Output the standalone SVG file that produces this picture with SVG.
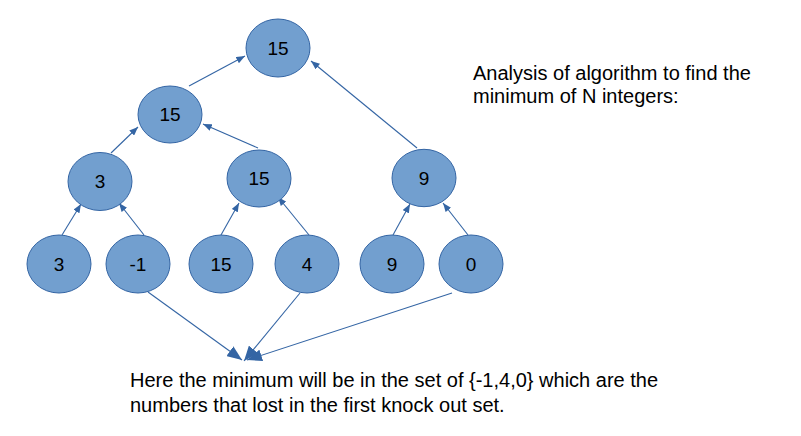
<svg xmlns="http://www.w3.org/2000/svg" width="801" height="436" viewBox="0 0 801 436">
<defs>
<style>
.n ellipse{fill:#729fcf;stroke:#3465a4;stroke-width:1}
.n text{font-family:"Liberation Sans",Arial,sans-serif;font-size:19px;fill:#000;text-anchor:middle}
.c line{stroke:#3465a4;stroke-width:1.1;fill:none}
.s{marker-end:url(#ah)}
.b{marker-end:url(#bh)}
.t{font-family:"Liberation Sans",Arial,sans-serif;font-size:20px;fill:#000}
</style>
<marker id="ah" viewBox="0 0 10 8" refX="10" refY="4" markerWidth="9" markerHeight="7" markerUnits="userSpaceOnUse" orient="auto"><path d="M0,0 L10,4 L0,8 Z" fill="#3465a4"/></marker>
<marker id="bh" viewBox="0 0 10 8" refX="10" refY="4" markerWidth="15" markerHeight="12" markerUnits="userSpaceOnUse" orient="auto"><path d="M0,0 L10,4 L0,8 Z" fill="#3465a4"/></marker>
</defs>
<rect width="801" height="436" fill="#fff"/>
<g id="connectors" class="c">
<line class="s" x1="189" y1="86" x2="245" y2="56"/>
<line class="s" x1="417" y1="148" x2="311" y2="61"/>
<line class="s" x1="258" y1="148" x2="203" y2="124"/>
<line class="s" x1="111" y1="153" x2="138" y2="127"/>
<line class="s" x1="62" y1="235" x2="81" y2="204"/>
<line class="s" x1="144" y1="235" x2="119" y2="203"/>
<line class="s" x1="221" y1="235" x2="239" y2="203"/>
<line class="s" x1="309" y1="235" x2="278" y2="197"/>
<line class="s" x1="393" y1="235" x2="410" y2="204"/>
<line class="s" x1="468" y1="235" x2="443" y2="203"/>
<line class="b" x1="148" y1="292" x2="242" y2="360"/>
<line class="b" x1="300" y1="293" x2="244" y2="361"/>
<line class="b" x1="452" y1="293" x2="247" y2="360"/>
</g>
<g id="n_top" class="n"><ellipse cx="278" cy="48" rx="32" ry="29"/><text x="278" y="55">15</text></g>
<g id="n_l2" class="n"><ellipse cx="170" cy="114.5" rx="32" ry="28.5"/><text x="170" y="121">15</text></g>
<g id="n_l3a" class="n"><ellipse cx="100" cy="181.5" rx="32" ry="29"/><text x="100" y="188">3</text></g>
<g id="n_l3b" class="n"><ellipse cx="259" cy="178.5" rx="32" ry="28.5"/><text x="259" y="185">15</text></g>
<g id="n_l3c" class="n"><ellipse cx="424" cy="178" rx="32" ry="28.7"/><text x="424" y="185">9</text></g>
<g id="n_leaf1" class="n"><ellipse cx="59" cy="264" rx="32" ry="29"/><text x="59" y="271">3</text></g>
<g id="n_leaf2" class="n"><ellipse cx="138" cy="264" rx="32" ry="29"/><text x="138" y="271">-1</text></g>
<g id="n_leaf3" class="n"><ellipse cx="221" cy="264" rx="32" ry="29"/><text x="221" y="271">15</text></g>
<g id="n_leaf4" class="n"><ellipse cx="307" cy="264" rx="32" ry="29"/><text x="307" y="271">4</text></g>
<g id="n_leaf5" class="n"><ellipse cx="392" cy="264" rx="32" ry="29"/><text x="392" y="271">9</text></g>
<g id="n_leaf6" class="n"><ellipse cx="471" cy="264" rx="32" ry="29"/><text x="471" y="271">0</text></g>
<g id="title">
<text class="t" x="473" y="80">Analysis of algorithm to find the</text>
<text class="t" x="473" y="103">minimum of N integers:</text>
</g>
<g id="note">
<text class="t" x="130" y="387">Here the minimum will be in the set of {-1,4,0} which are the</text>
<text class="t" x="130" y="412">numbers that lost in the first knock out set.</text>
</g>
</svg>
